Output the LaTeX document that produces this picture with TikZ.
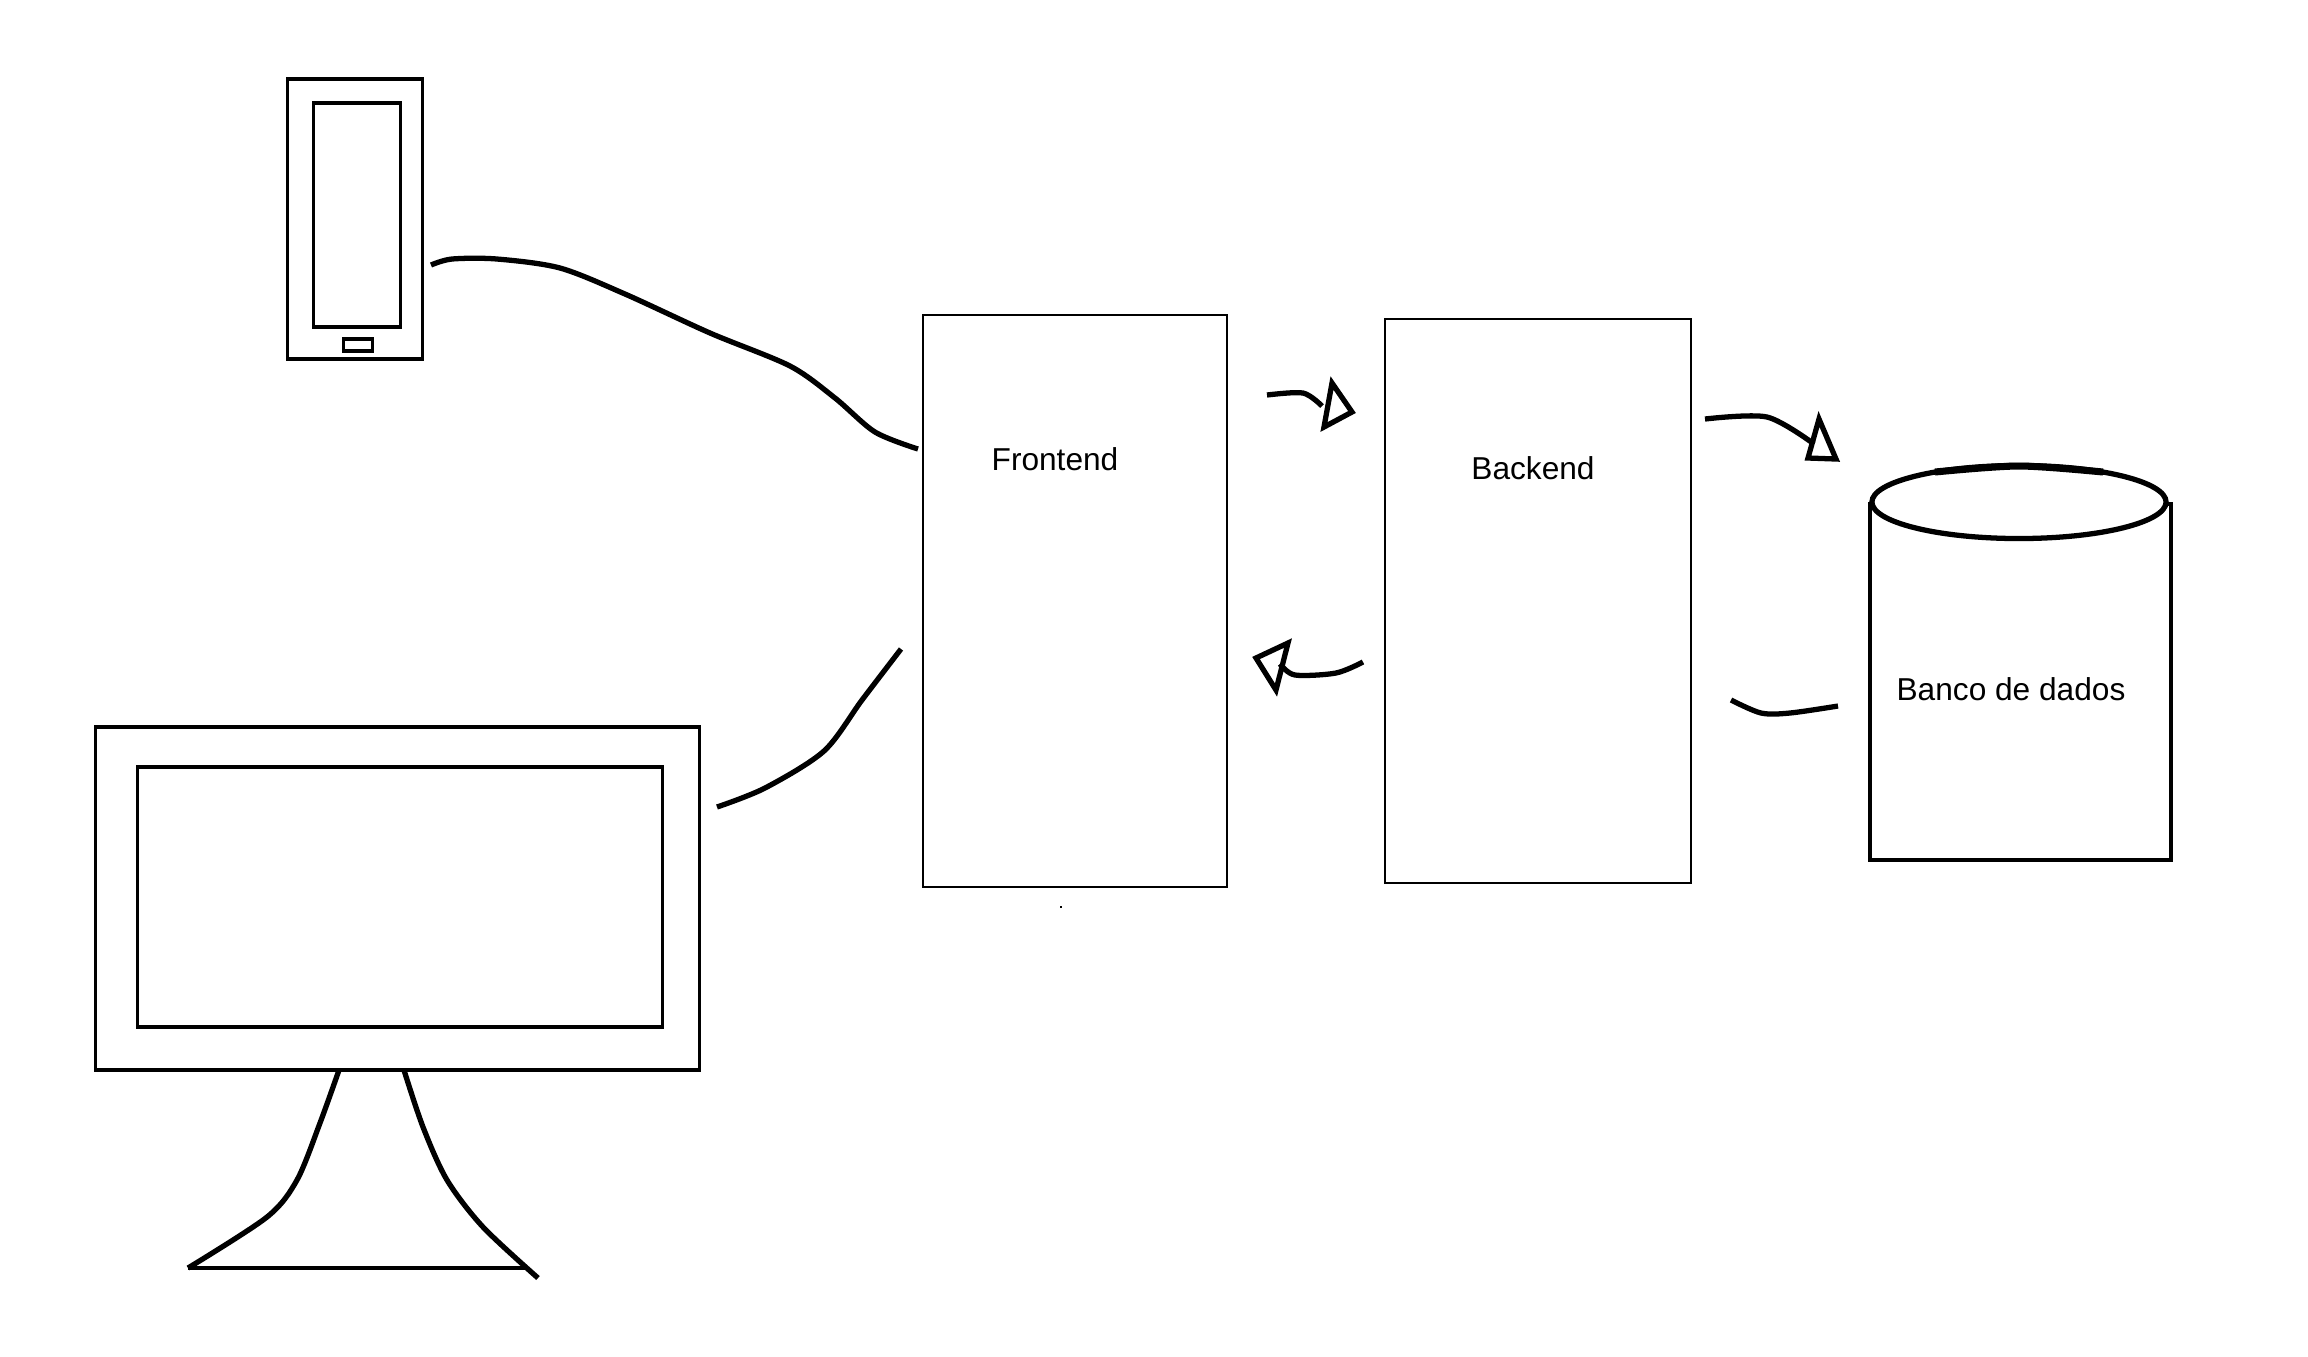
\documentclass[tikz,border=0pt]{standalone}
\usepackage{fontspec}
\setmainfont{Liberation Sans}
\usetikzlibrary{shapes.geometric}
\definecolor{skInk}{HTML}{000000}
\tikzset{
  skbox/.style={draw=skInk, line width=0.6pt, fill=none, inner sep=0pt, outer sep=0pt},
  skdevice/.style={draw=skInk, line width=0.95pt, fill=none, inner sep=0pt, outer sep=0pt},
  skstroke/.style={draw=skInk, line width=1.5pt},
  sklabel/.style={text=skInk, inner sep=0pt, font=\fontsize{9}{11}\selectfont},
}

\begin{document}
\begin{tikzpicture}[x=0.01cm, y=-0.01cm]
  \useasboundingbox (0,0) rectangle (2308,1356);

  % --- Devices ------------------------------------------------------------
  \node[skdevice, minimum width=1.35cm, minimum height=2.80cm]  (phone)       at (355,219)  {};
  \node[skdevice, minimum width=0.87cm, minimum height=2.24cm]  (phonescreen) at (357,215)  {};
  \node[skdevice, minimum width=0.29cm, minimum height=0.12cm]  (phonebutton) at (358,345)  {};
  \node[skdevice, minimum width=6.03cm, minimum height=3.43cm]  (monitor)     at (397.5,898.5) {};
  \node[skdevice, minimum width=5.25cm, minimum height=2.60cm]  (screen)      at (400,897) {};

  % --- Servers ------------------------------------------------------------
  \node[skbox, minimum width=3.04cm, minimum height=5.72cm]     (frontend)    at (1075,601) {};
  \node[skbox, minimum width=3.06cm, minimum height=5.64cm]     (backend)     at (1538,601) {};
  \node[skdevice, minimum width=3.01cm, minimum height=3.56cm]  (dbbody)      at (2020.5,682) {};
  \node[skdevice, ellipse, fill=white, line width=1.5pt,
        minimum width=2.94cm, minimum height=0.73cm]            (dbtop)       at (2019,502) {};

  \node[sklabel] (frontendtext) at (1055,459) {Frontend};
  \node[sklabel] (backendtext)  at (1533,468) {Backend};
  \node[sklabel] (dbtext)       at (2011,689) {Banco de dados};

  % --- Free ends of the sketched strokes ----------------------------------
  \coordinate (phoneout)  at (431,265);
  \coordinate (phonein)   at (918,449);
  \coordinate (monout)    at (717,807);
  \coordinate (monin)     at (901,649);
  \coordinate (fbstart)   at (1267,395);
  \coordinate (fbend)     at (1322,406);
  \coordinate (bdstart)   at (1705,419);
  \coordinate (bdend)     at (1814,444);
  \coordinate (bfstart)   at (1363,662);
  \coordinate (bfend)     at (1280,664);
  \coordinate (dbstart)   at (1838,706);
  \coordinate (dbend)     at (1731,700);
  \coordinate (standl)    at (188,1268);
  \coordinate (standr)    at (538,1278);
  \coordinate (baser)     at (527,1268);

  % --- Device strokes -----------------------------------------------------
  \draw[skstroke] plot[smooth] coordinates {(phoneout) (452,259) (497,259) (560,268)
        (625,294) (710,333) (790,366) (835,398) (875,432) (phonein)};
  \draw[skstroke] plot[smooth] coordinates {(monout) (765,788) (824,751) (862,700) (monin)};

  % --- Hand arrows --------------------------------------------------------
  \draw[skstroke] plot[smooth] coordinates {(fbstart) (1303,393) (fbend)};
  \draw[skstroke] (1332,383) -- (1352,412) -- (1324,427) -- cycle;

  \draw[skstroke] plot[smooth] coordinates {(bdstart) (1767,417) (bdend)};
  \draw[skstroke] (1819,419) -- (1836,459) -- (1808,458) -- cycle;

  \draw[skstroke] plot[smooth] coordinates {(bfstart) (1336,673) (1295,675) (bfend)};
  \draw[skstroke] (1288,643) -- (1256,658) -- (1276,690) -- cycle;

  \draw[skstroke] plot[smooth] coordinates {(dbstart) (1790,713) (1761,713) (dbend)};

  % --- Thick part of the database lid --------------------------------------
  \draw[skstroke, line width=2pt] plot[smooth] coordinates {(1935,472) (2019,466) (2103,472)};

  % --- Monitor stand ------------------------------------------------------
  \draw[skstroke] plot[smooth] coordinates {(monitor.south -| 339,0) (320,1123) (297,1180) (267,1217) (standl)};
  \draw[skstroke] plot[smooth] coordinates {(monitor.south -| 404,0) (423,1127) (447,1180) (483,1227) (standr)};
  \draw[skstroke, line width=1.1pt] (standl) -- (baser);

  % speck under the frontend box
  \fill[skInk] (1060,906) rectangle (1062,908);

\end{tikzpicture}
\end{document}
